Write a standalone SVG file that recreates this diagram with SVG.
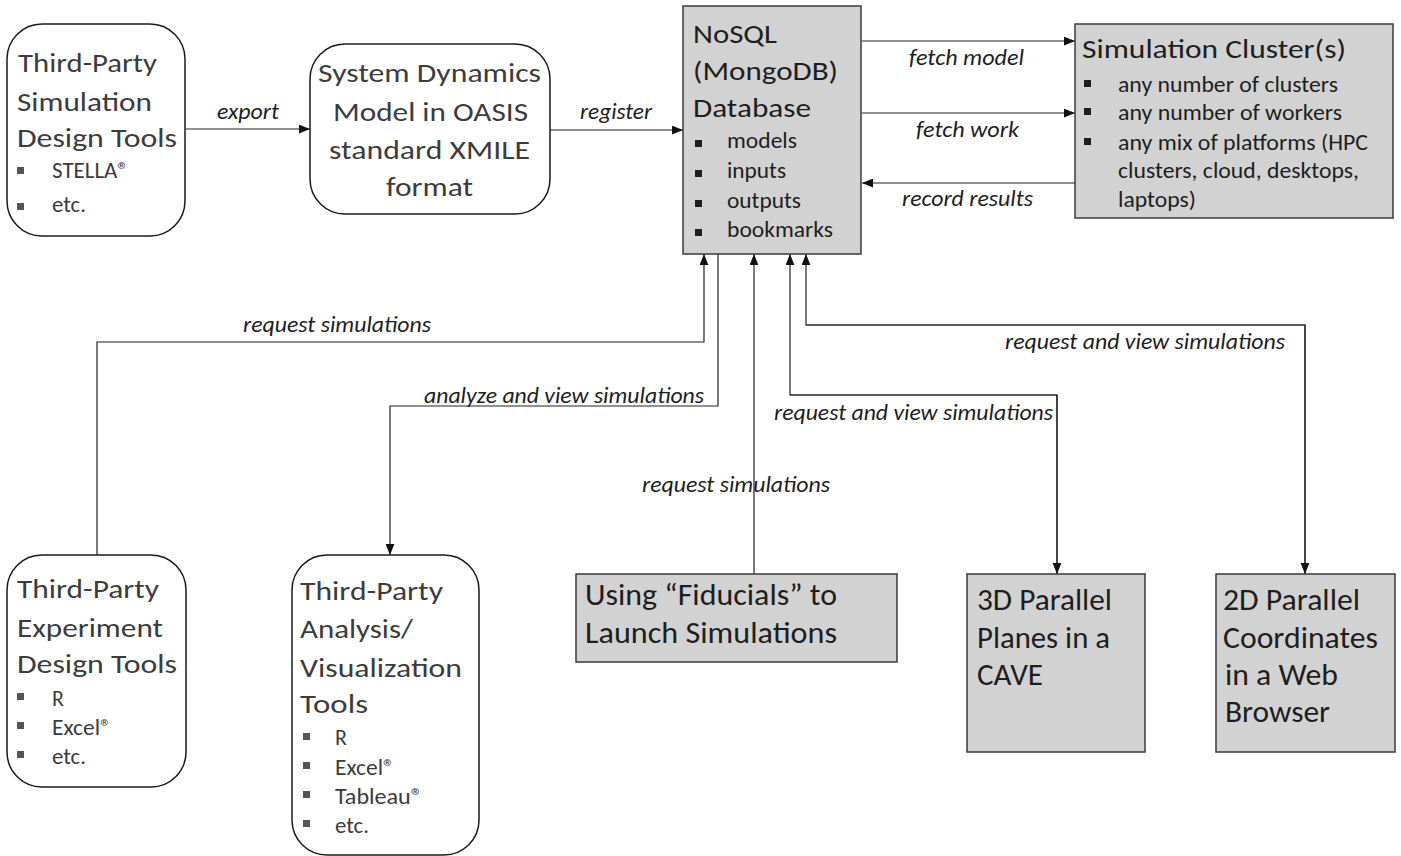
<svg xmlns="http://www.w3.org/2000/svg" width="1401" height="856" viewBox="0 0 1401 856">
<defs>
<style>
.rnd{fill:#fff;stroke:#1a1a1a;stroke-width:1.5}
.box{fill:#d2d2d2;stroke:#3a3a3a;stroke-width:1.5}
text{font-family:Carlito,Lato,"Liberation Sans",sans-serif}
.h{font-size:26px;fill:#3c3c3c}
.g{font-size:26px;fill:#1e1e1e}
.gl{font-size:30px;fill:#1e1e1e}
.b{font-size:22px;fill:#3c3c3c}
.bd{font-size:22px;fill:#1e1e1e}
.lbl{font-size:21.5px;font-style:italic;fill:#1e1e1e}
.sq{fill:#555}
.sqd{fill:#1e1e1e}
.ln{fill:none;stroke:#222;stroke-width:1.2}
</style>
<marker id="ah" viewBox="0 0 10 8" refX="10" refY="4" markerWidth="11" markerHeight="9" markerUnits="userSpaceOnUse" orient="auto">
<path d="M0,0 L10,4 L0,8 z" fill="#111"/>
</marker>
</defs>

<g id="connectors">
<line class="ln" x1="186" y1="129" x2="310" y2="129" marker-end="url(#ah)"/>
<text class="lbl" x="217" y="119" textLength="62" lengthAdjust="spacingAndGlyphs">export</text>
<line class="ln" x1="550" y1="130" x2="683" y2="130" marker-end="url(#ah)"/>
<text class="lbl" x="580" y="119" textLength="72" lengthAdjust="spacingAndGlyphs">register</text>
<line class="ln" x1="862" y1="41" x2="1075" y2="41" marker-end="url(#ah)"/>
<text class="lbl" x="909" y="65" textLength="115" lengthAdjust="spacingAndGlyphs">fetch model</text>
<line class="ln" x1="862" y1="113" x2="1075" y2="113" marker-end="url(#ah)"/>
<text class="lbl" x="916" y="137" textLength="103" lengthAdjust="spacingAndGlyphs">fetch work</text>
<line class="ln" x1="1075" y1="183" x2="862" y2="183" marker-end="url(#ah)"/>
<text class="lbl" x="902" y="206" textLength="131" lengthAdjust="spacingAndGlyphs">record results</text>
<polyline class="ln" points="97,555 97,342 704,342 704,254" marker-end="url(#ah)"/>
<text class="lbl" x="243" y="332" textLength="188" lengthAdjust="spacingAndGlyphs">request simulations</text>
<polyline class="ln" points="718,254 718,406 390,406 390,555" marker-end="url(#ah)"/>
<text class="lbl" x="424" y="403" textLength="280" lengthAdjust="spacingAndGlyphs">analyze and view simulations</text>
<line class="ln" x1="754" y1="574" x2="754" y2="254" marker-end="url(#ah)"/>
<text class="lbl" x="642" y="492" textLength="188" lengthAdjust="spacingAndGlyphs">request simulations</text>
<polyline class="ln" points="1057,574 1057,395 790,395 790,254" marker-end="url(#ah)"/>
<polyline class="ln" points="790,395 1057,395 1057,574" marker-end="url(#ah)"/>
<text class="lbl" x="774" y="420" textLength="279" lengthAdjust="spacingAndGlyphs">request and view simulations</text>
<polyline class="ln" points="1305,574 1305,325 806,325 806,254" marker-end="url(#ah)"/>
<polyline class="ln" points="806,325 1305,325 1305,574" marker-end="url(#ah)"/>
<text class="lbl" x="1005" y="349" textLength="280" lengthAdjust="spacingAndGlyphs">request and view simulations</text>
</g>

<g id="sim-design-tools">
<rect class="rnd" x="7" y="24" width="178" height="212" rx="35"/>
<text class="h" x="18" y="72" textLength="139" lengthAdjust="spacingAndGlyphs">Third-Party</text>
<text class="h" x="17" y="111" textLength="135" lengthAdjust="spacingAndGlyphs">Simulation</text>
<text class="h" x="17" y="147" textLength="160" lengthAdjust="spacingAndGlyphs">Design Tools</text>
<rect class="sq" x="17" y="167" width="7" height="7"/>
<text class="b" x="52" y="178" textLength="77" lengthAdjust="spacingAndGlyphs">STELLA®</text>
<rect class="sq" x="17" y="203" width="7" height="7"/>
<text class="b" x="52" y="212" textLength="34" lengthAdjust="spacingAndGlyphs">etc.</text>
</g>

<g id="xmile-model">
<rect class="rnd" x="310" y="44" width="240" height="170" rx="35"/>
<text class="h" x="318" y="82" textLength="223" lengthAdjust="spacingAndGlyphs">System Dynamics</text>
<text class="h" x="333" y="121" textLength="195" lengthAdjust="spacingAndGlyphs">Model in OASIS</text>
<text class="h" x="329" y="159" textLength="201" lengthAdjust="spacingAndGlyphs">standard XMILE</text>
<text class="h" x="386" y="196" textLength="87" lengthAdjust="spacingAndGlyphs">format</text>
</g>

<g id="database">
<rect class="box" x="683" y="6" width="178" height="248"/>
<text class="g" x="693" y="43" textLength="84" lengthAdjust="spacingAndGlyphs">NoSQL</text>
<text class="g" x="693" y="80" textLength="145" lengthAdjust="spacingAndGlyphs">(MongoDB)</text>
<text class="g" x="693" y="117" textLength="118" lengthAdjust="spacingAndGlyphs">Database</text>
<rect class="sqd" x="695" y="140" width="7" height="7"/>
<text class="bd" x="727" y="148" textLength="70" lengthAdjust="spacingAndGlyphs">models</text>
<rect class="sqd" x="695" y="170" width="7" height="7"/>
<text class="bd" x="727" y="178" textLength="59" lengthAdjust="spacingAndGlyphs">inputs</text>
<rect class="sqd" x="695" y="200" width="7" height="7"/>
<text class="bd" x="727" y="208" textLength="74" lengthAdjust="spacingAndGlyphs">outputs</text>
<rect class="sqd" x="695" y="229" width="7" height="7"/>
<text class="bd" x="727" y="237" textLength="106" lengthAdjust="spacingAndGlyphs">bookmarks</text>
</g>

<g id="cluster">
<rect class="box" x="1075" y="24" width="318" height="194"/>
<text class="g" x="1082" y="58" textLength="264" lengthAdjust="spacingAndGlyphs">Simulation Cluster(s)</text>
<rect class="sqd" x="1084" y="80" width="7" height="7"/>
<text class="bd" x="1118" y="92" textLength="220" lengthAdjust="spacingAndGlyphs">any number of clusters</text>
<rect class="sqd" x="1084" y="108" width="7" height="7"/>
<text class="bd" x="1118" y="120" textLength="224" lengthAdjust="spacingAndGlyphs">any number of workers</text>
<rect class="sqd" x="1084" y="138" width="7" height="7"/>
<text class="bd" x="1118" y="150" textLength="250" lengthAdjust="spacingAndGlyphs">any mix of platforms (HPC</text>
<text class="bd" x="1118" y="178" textLength="241" lengthAdjust="spacingAndGlyphs">clusters, cloud, desktops,</text>
<text class="bd" x="1118" y="207" textLength="78" lengthAdjust="spacingAndGlyphs">laptops)</text>
</g>

<g id="experiment-tools">
<rect class="rnd" x="7" y="555" width="179" height="232" rx="35"/>
<text class="h" x="17" y="598" textLength="142" lengthAdjust="spacingAndGlyphs">Third-Party</text>
<text class="h" x="17" y="637" textLength="146" lengthAdjust="spacingAndGlyphs">Experiment</text>
<text class="h" x="17" y="673" textLength="160" lengthAdjust="spacingAndGlyphs">Design Tools</text>
<rect class="sq" x="17" y="693" width="7" height="7"/>
<text class="b" x="52" y="706">R</text>
<rect class="sq" x="17" y="722" width="7" height="7"/>
<text class="b" x="52" y="735" textLength="60" lengthAdjust="spacingAndGlyphs">Excel®</text>
<rect class="sq" x="17" y="751" width="7" height="7"/>
<text class="b" x="52" y="764" textLength="34" lengthAdjust="spacingAndGlyphs">etc.</text>
</g>

<g id="analysis-tools">
<rect class="rnd" x="292" y="555" width="187" height="300" rx="35"/>
<text class="h" x="300" y="600" textLength="143" lengthAdjust="spacingAndGlyphs">Third-Party</text>
<text class="h" x="300" y="638" textLength="113" lengthAdjust="spacingAndGlyphs">Analysis/</text>
<text class="h" x="300" y="677" textLength="162" lengthAdjust="spacingAndGlyphs">Visualization</text>
<text class="h" x="300" y="713" textLength="68" lengthAdjust="spacingAndGlyphs">Tools</text>
<rect class="sq" x="303" y="733" width="7" height="7"/>
<text class="b" x="335" y="745">R</text>
<rect class="sq" x="303" y="762" width="7" height="7"/>
<text class="b" x="335" y="775" textLength="60" lengthAdjust="spacingAndGlyphs">Excel®</text>
<rect class="sq" x="303" y="791" width="7" height="7"/>
<text class="b" x="335" y="804" textLength="88" lengthAdjust="spacingAndGlyphs">Tableau®</text>
<rect class="sq" x="303" y="820" width="7" height="7"/>
<text class="b" x="335" y="833" textLength="34" lengthAdjust="spacingAndGlyphs">etc.</text>
</g>

<g id="fiducials">
<rect class="box" x="576" y="574" width="321" height="88"/>
<text class="gl" x="585" y="605" textLength="252" lengthAdjust="spacingAndGlyphs">Using “Fiducials” to</text>
<text class="gl" x="585" y="643" textLength="252" lengthAdjust="spacingAndGlyphs">Launch Simulations</text>
</g>

<g id="cave">
<rect class="box" x="967" y="574" width="178" height="178"/>
<text class="gl" x="977" y="610" textLength="135" lengthAdjust="spacingAndGlyphs">3D Parallel</text>
<text class="gl" x="977" y="648" textLength="133" lengthAdjust="spacingAndGlyphs">Planes in a</text>
<text class="gl" x="977" y="685" textLength="66" lengthAdjust="spacingAndGlyphs">CAVE</text>
</g>

<g id="browser">
<rect class="box" x="1216" y="574" width="179" height="178"/>
<text class="gl" x="1223" y="610" textLength="137" lengthAdjust="spacingAndGlyphs">2D Parallel</text>
<text class="gl" x="1223" y="648" textLength="155" lengthAdjust="spacingAndGlyphs">Coordinates</text>
<text class="gl" x="1225" y="685" textLength="113" lengthAdjust="spacingAndGlyphs">in a Web</text>
<text class="gl" x="1225" y="722" textLength="105" lengthAdjust="spacingAndGlyphs">Browser</text>
</g>
</svg>
